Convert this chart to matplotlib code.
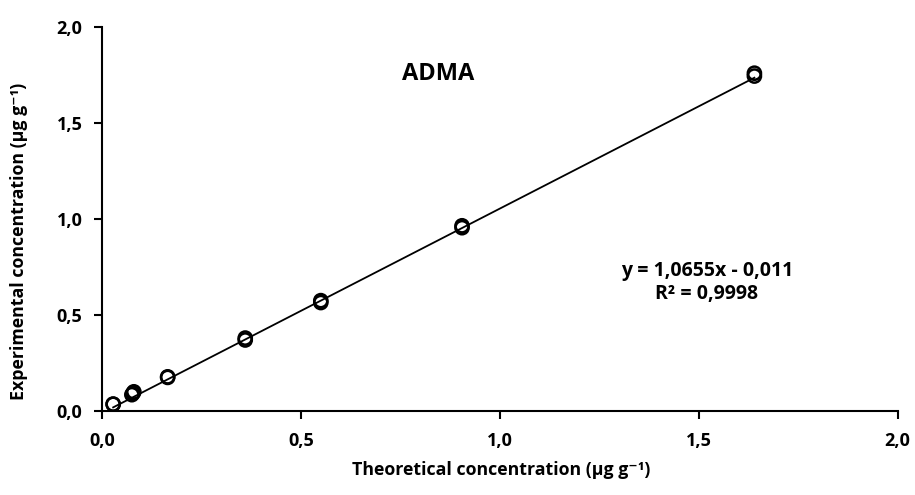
import matplotlib
matplotlib.use("Agg")
import matplotlib.pyplot as plt
import numpy as np

plt.rcParams['font.family'] = ['Open Sans', 'DejaVu Sans']

theoretical = [0.028, 0.028, 0.075, 0.08, 0.078, 0.165, 0.165, 0.36, 0.36, 0.55, 0.55, 0.905, 0.905, 1.64, 1.64]
experimental = [0.035, 0.036, 0.085, 0.10, 0.093, 0.175, 0.178, 0.37, 0.38, 0.565, 0.575, 0.955, 0.965, 1.745, 1.76]
slope = 1.0655
intercept = -0.011
xticks = [0.0, 0.5, 1.0, 1.5, 2.0]
ticklabels = ["0,0", "0,5", "1,0", "1,5", "2,0"]

fig = plt.figure(figsize=(9.15, 4.95), dpi=100)
ax = fig.add_axes([0.1115, 0.1697, 0.8695, 0.7755])

xl = np.array([min(theoretical), max(theoretical)])
ax.plot(xl, slope * xl + intercept, color='black', lw=1.3, zorder=2)
ax.scatter(theoretical, experimental, s=90, facecolors='none', edgecolors='black', linewidths=1.8, zorder=3)

ax.set_xlim(0, 2)
ax.set_ylim(0, 2)
ax.set_xticks(xticks)
ax.set_xticklabels(ticklabels)
ax.set_yticks(xticks)
ax.set_yticklabels(ticklabels)
for s in ['top', 'right']:
    ax.spines[s].set_visible(False)
for s in ['left', 'bottom']:
    ax.spines[s].set_linewidth(1.5)
ax.tick_params(direction='out', length=6, width=1.5, labelsize=13)
ax.tick_params(axis='x', pad=9)
ax.tick_params(axis='y', pad=8)
for lbl in ax.get_xticklabels() + ax.get_yticklabels():
    lbl.set_fontweight('bold')

fig.text(0.548, 0.05, "Theoretical concentration (µg g⁻¹)", fontsize=12.8, fontweight='bold', ha='center', va='center')
fig.text(0.021, 0.513, "Experimental concentration (µg g⁻¹)", fontsize=12.8, fontweight='bold', ha='center', va='center', rotation=90)

ax.text(0.423, 0.877, "ADMA", transform=ax.transAxes, fontsize=17, fontweight='bold', ha='center', va='center')
ax.text(0.76, 0.336, "y = 1,0655x - 0,011\nR² = 0,9998", transform=ax.transAxes, fontsize=14,
        fontweight='bold', ha='center', va='center', linespacing=1.2)

fig.savefig("out.png", dpi=100)
